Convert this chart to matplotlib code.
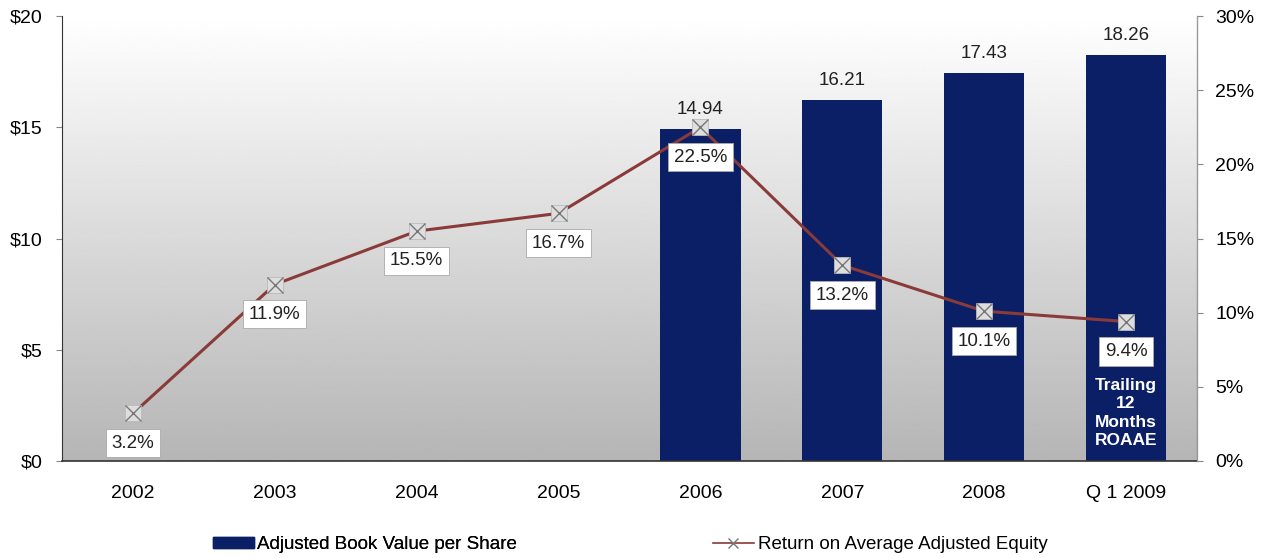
import numpy as np
import matplotlib.pyplot as plt
from matplotlib.lines import Line2D
from matplotlib.patches import Patch

plt.rcParams['font.family'] = ['Liberation Sans', 'DejaVu Sans']
plt.rcParams['font.size'] = 13.5

# data
periods = ['2002', '2003', '2004', '2005', '2006', '2007', '2008', 'Q 1 2009']
book_value = [None, None, None, None, 14.94, 16.21, 17.43, 18.26]
roaae = [3.2, 11.9, 15.5, 16.7, 22.5, 13.2, 10.1, 9.4]

navy = '#0a1f66'
line_red = '#8b3a3a'

fig = plt.figure(figsize=(12.66, 5.58), dpi=100)
ax = fig.add_axes([0.049, 0.174, 0.8965, 0.797])
ax2 = ax.twinx()

x = np.arange(len(periods))

# grey-to-white background
grad = np.linspace(0.71, 1.0, 256).reshape(-1, 1)
ax.imshow(grad, cmap='gray', vmin=0, vmax=1, aspect='auto',
          extent=(-0.5, 7.5, 0, 20), origin='lower', zorder=0)

bx = [i for i, v in enumerate(book_value) if v is not None]
bv = [book_value[i] for i in bx]
ax.bar(bx, bv, width=0.565, color=navy, zorder=2)
for i, v in zip(bx, bv):
    ax.annotate(f'{v:.2f}', (i, v), xytext=(0, 8), textcoords='offset points',
                ha='center', va='bottom', fontsize=13.5, color='#222222')

ax.text(7, 2.15, 'Trailing\n12\nMonths\nROAAE', ha='center', va='center',
        color='white', fontsize=12.5, fontweight='bold', linespacing=1.3, zorder=3)

ax.set_xlim(-0.5, 7.5)
ax.set_ylim(0, 20)
ax.set_yticks([0, 5, 10, 15, 20])
ax.set_yticklabels(['$0', '$5', '$10', '$15', '$20'])
ax.set_xticks(x)
ax.set_xticklabels(periods)
ax.tick_params(axis='x', length=0, pad=17, labelsize=14)
ax.tick_params(axis='y', length=4, pad=10, labelsize=14, color='#888888')

# return on equity on the right axis
ax2.plot(x, roaae, color=line_red, lw=2.2, zorder=4)
ax2.plot(x, roaae, ls='none', marker='s', ms=12, mfc='#dedede', mec='#bbbbbb',
         mew=0.6, zorder=5)
ax2.plot(x, roaae, ls='none', marker='x', ms=11, mec='#777777', mew=1.0, zorder=6)
for i, v in enumerate(roaae):
    ax2.annotate(f'{v:.1f}%', (i, v), xytext=(0, -21.5), textcoords='offset points',
                 ha='center', va='center', fontsize=13.5, color='#222222', zorder=7,
                 bbox=dict(boxstyle='square,pad=0.3', fc='white', ec='#aaaaaa', lw=0.6))
ax2.set_ylim(0, 30)
ax2.set_yticks(range(0, 31, 5))
ax2.set_yticklabels([f'{t}%' for t in range(0, 31, 5)])
ax2.tick_params(axis='y', length=4, pad=9, labelsize=14, color='#888888')

for a in (ax, ax2):
    a.spines['top'].set_visible(False)
ax.spines['left'].set_color('#333333')
ax.spines['bottom'].set_color('#333333')
ax.spines['bottom'].set_linewidth(1.2)
ax2.spines['right'].set_color('#999999')
ax2.spines['left'].set_visible(False)
ax2.spines['bottom'].set_visible(False)

# legend entries placed separately along the bottom
leg1 = fig.legend(handles=[Patch(color=navy, label='Adjusted Book Value per Share')],
                  loc='center left', bbox_to_anchor=(0.168, 0.024), frameon=False,
                  fontsize=13.5, handlelength=2.2, handletextpad=0.15,
                  handleheight=0.55, borderpad=0, borderaxespad=0)
fig.legend(handles=[Line2D([], [], color=line_red, lw=1.2, marker='x', ms=7,
                           mec='#777777', label='Return on Average Adjusted Equity')],
           loc='center left', bbox_to_anchor=(0.563, 0.024), frameon=False,
           fontsize=13.5, handlelength=2.2, handletextpad=0.2,
           borderpad=0, borderaxespad=0)
fig.add_artist(leg1)

fig.savefig('out.png', dpi=100)
